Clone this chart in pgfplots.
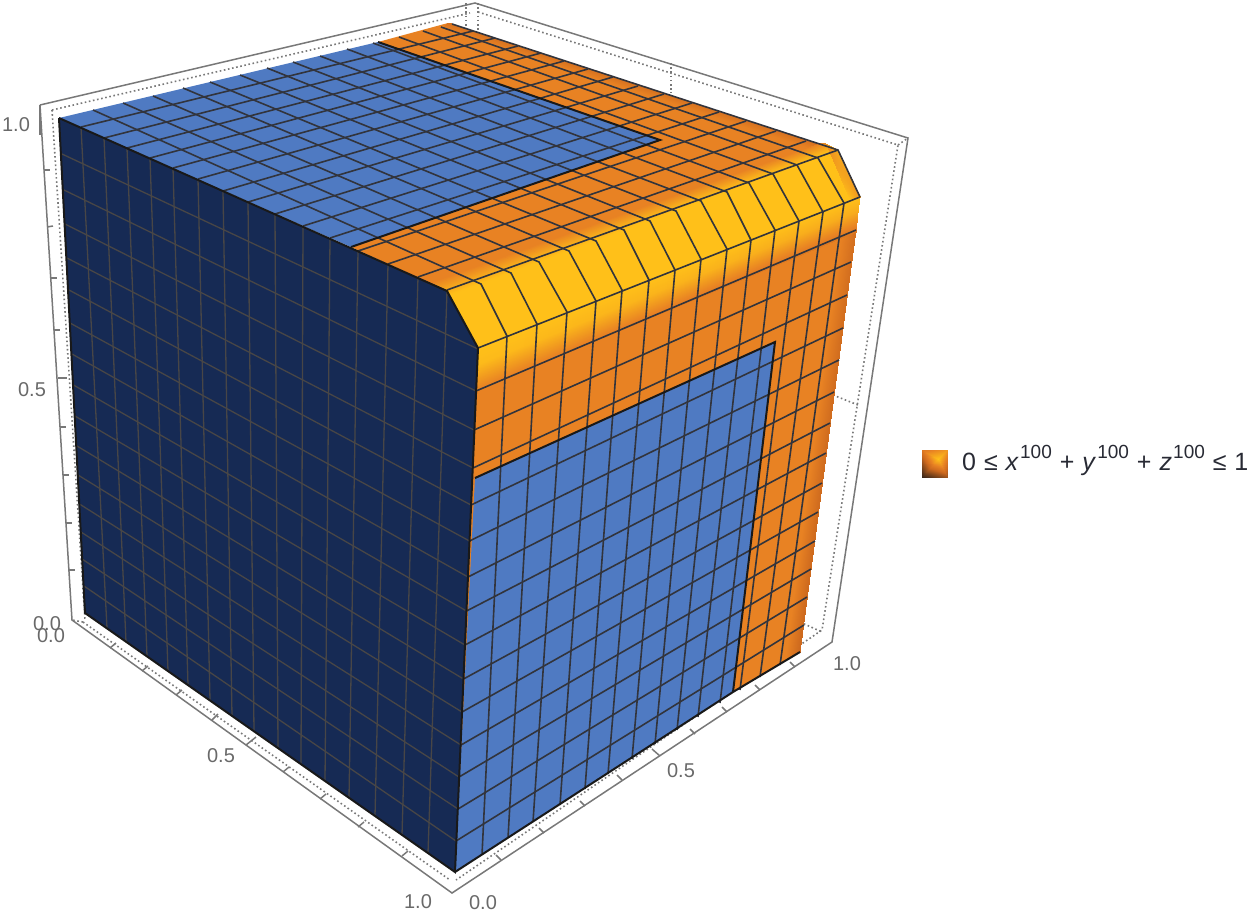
\documentclass[border=0pt]{standalone}
\usepackage{pgfplots}
\usepgfplotslibrary{patchplots}
\pgfplotsset{compat=1.18}
\usepackage{fontspec}
\setmainfont{Liberation Sans}
\definecolor{darkf}{RGB}{22,42,84}
\definecolor{bluef}{RGB}{79,122,194}
\definecolor{orangef}{RGB}{232,130,35}
\definecolor{yellowf}{RGB}{255,192,25}
\definecolor{gridb}{RGB}{50,52,60}
\definecolor{gridd}{RGB}{72,70,70}
\definecolor{frameg}{RGB}{120,120,120}
\definecolor{tickl}{RGB}{105,105,105}
\definecolor{legt}{RGB}{40,42,52}
\pgfplotsset{
 gl/.style={no marks,color=gridb,line width=1.6pt,forget plot},
 dl/.style={no marks,color=gridd,line width=1.3pt,forget plot},
 fr/.style={no marks,color=frameg,line width=1.5pt,forget plot},
 fd/.style={no marks,color=frameg,line width=1.6pt,dash pattern=on 1.6pt off 2.6pt,forget plot},
 eg/.style={no marks,color=black!90,line width=2pt,forget plot},
 sh/.style={patch,patch type=bilinear,shader=interp,point meta=explicit,forget plot},
}
\tikzset{ar/.style={font=\fontsize{20}{20}\selectfont,text=tickl,inner sep=0pt}}
\newcommand{\supn}{\hspace{1.2pt}\raisebox{12pt}{\fontsize{19}{19}\selectfont 100}}
\begin{document}
\begin{tikzpicture}[x=1pt,y=1pt]
\useasboundingbox (0,0) rectangle (1250,914);
\begin{axis}[at={(0,0)},anchor=south west,scale only axis,width=1250pt,height=914pt,
 xmin=0,xmax=1250,ymin=0,ymax=914,y dir=reverse,axis lines=none,clip=false,
 point meta min=0,point meta max=1,
 colormap={hot2}{rgb255(0cm)=(50,35,25) rgb255(5cm)=(205,105,30) rgb255(7cm)=(232,130,35) rgb255(10cm)=(255,192,25)}]
% frame, solid
\addplot[fr] coordinates {(40,105)(475,3)(908,138)(832,642)(452,893)(72,620)(40,105)};
\addplot[fr] coordinates {(40,105)(40,135)};
% frame, dotted
\addplot[fd] coordinates {(52,110)(470,13)};
\addplot[fd] coordinates {(478,12)(898,145)(822,630)(456,880)};
\addplot[fd] coordinates {(83,622)(450,880)};
\addplot[fd] coordinates {(52,110)(85,620)};
\addplot[fd] coordinates {(478,3)(478,30)};
\addplot[fd] coordinates {(466,3)(466,28)};
\addplot[fd] coordinates {(671,63)(671,93)};
\addplot[fd] coordinates {(833,395)(858,405)};
\addplot[fd] coordinates {(800,622)(822,632)};
\addplot[fd] coordinates {(898,145)(908,138)};
\addplot[fd] coordinates {(83,622)(72,620)};
% frame ticks, left
\addplot[fr] coordinates {(44,170)(50,170)};
\addplot[fr] coordinates {(47,227)(53,226)};
\addplot[fr] coordinates {(51,278)(57,278)};
\addplot[fr] coordinates {(54,330)(60,330)};
\addplot[fr] coordinates {(58,378)(67,378)};
\addplot[fr] coordinates {(60,427)(66,427)};
\addplot[fr] coordinates {(63,475)(69,475)};
\addplot[fr] coordinates {(66,523)(72,523)};
\addplot[fr] coordinates {(69,570)(75,570)};
% frame ticks, lower left
\addplot[fr] coordinates {(110,648)(116,643)};
\addplot[fr] coordinates {(142,671)(148,666)};
\addplot[fr] coordinates {(176,695)(182,690)};
\addplot[fr] coordinates {(212,720)(218,714)};
\addplot[fr] coordinates {(246,745)(256,737)};
\addplot[fr] coordinates {(283,772)(289,767)};
\addplot[fr] coordinates {(320,799)(326,794)};
\addplot[fr] coordinates {(358,827)(364,822)};
\addplot[fr] coordinates {(402,856)(408,851)};
% frame ticks, lower right
\addplot[fr] coordinates {(501,860)(496,855)};
\addplot[fr] coordinates {(544,833)(539,828)};
\addplot[fr] coordinates {(585,806)(580,801)};
\addplot[fr] coordinates {(622,780)(617,775)};
\addplot[fr] coordinates {(660,756)(652,749)};
\addplot[fr] coordinates {(695,734)(690,729)};
\addplot[fr] coordinates {(727,712)(722,707)};
\addplot[fr] coordinates {(760,690)(755,685)};
\addplot[fr] coordinates {(795,667)(790,662)};
% orange base
\addplot[fill=orangef,draw=none,forget plot] coordinates {(351,247)(378,42)(448,23)(828,147)(860,197)(478,348)(447,291)} --cycle;
\addplot[fill=orangef,draw=none,forget plot] coordinates {(478,348)(860,197)(800,652)(733,692)(455,872)} --cycle;
% shaded parts of the orange surface
\addplot[sh] coordinates {(448,23)[0.55] (828,147)[0.55] (823,154)[0.7] (443,29)[0.7]};
\addplot[sh] coordinates {(842,230)[0.7] (856,230)[0.55] (800,652)[0.5] (786,660)[0.7]};
\addplot[sh] coordinates {(432,283)[0.7] (823,143)[0.7] (838,150)[1] (452,295)[1]};
\addplot[sh] coordinates {(478,348)[1] (860,197)[1] (858,212)[0.9] (477,366)[0.97]};
\addplot[sh] coordinates {(477,366)[0.97] (858,212)[0.9] (856,232)[0.62] (476,391)[0.7]};
\addplot[fill=yellowf,draw=none,forget plot] coordinates {(447,291)(452,295)(838,150)(860,197)(478,348)} --cycle;
\addplot[sh] coordinates {(828,147)[0.75] (838,150)[0.9] (860,197)[0.8] (850,199)[1]};
% top blue and front blue
\addplot[fill=bluef,draw=none,forget plot] coordinates {(59,118)(378,42)(660,140)(351,247)} --cycle;
\addplot[fill=bluef,draw=none,forget plot] coordinates {(475,478)(775,342)(733,692)(455,872)} --cycle;
% top rows
\addplot[gl] coordinates {(81,127)(473,31)};
\addplot[gl] coordinates {(104,138)(495,38)};
\addplot[gl] coordinates {(127,148)(518,46)};
\addplot[gl] coordinates {(150,158)(541,53)};
\addplot[gl] coordinates {(173,168)(564,61)};
\addplot[gl] coordinates {(198,179)(588,69)};
\addplot[gl] coordinates {(223,191)(613,77)};
\addplot[gl] coordinates {(248,202)(638,86)};
\addplot[gl] coordinates {(275,214)(664,94)};
\addplot[gl] coordinates {(303,226)(692,103)};
\addplot[gl] coordinates {(330,238)(719,112)};
\addplot[gl] coordinates {(358,251)(746,121)};
\addplot[gl] coordinates {(388,264)(776,131)};
\addplot[gl] coordinates {(418,277)(806,141)};
\addplot[gl] coordinates {(447,290)(838,150)};
% columns over the top, the rounded edge and the front
\addplot[gl] coordinates {(93,110)(481,284)(507,336)(482,855)};
\addplot[gl] coordinates {(123,103)(511,273)(537,324)(508,838)};
\addplot[gl] coordinates {(153,96)(539,262)(567,312)(533,822)};
\addplot[gl] coordinates {(183,88)(569,251)(596,301)(560,805)};
\addplot[gl] coordinates {(210,82)(596,241)(622,290)(585,789)};
\addplot[gl] coordinates {(240,75)(624,230)(649,280)(608,774)};
\addplot[gl] coordinates {(267,68)(650,221)(675,270)(632,759)};
\addplot[gl] coordinates {(293,62)(676,211)(701,259)(655,744)};
\addplot[gl] coordinates {(320,56)(701,201)(727,249)(677,730)};
\addplot[gl] coordinates {(347,49)(727,192)(751,240)(698,717)};
\addplot[gl] coordinates {(373,43)(749,183)(775,230)(720,703)};
\addplot[gl] coordinates {(399,37)(773,174)(799,221)(740,690)};
\addplot[gl] coordinates {(423,31)(797,165)(823,212)(760,677)};
\addplot[gl] coordinates {(441,27)(818,158)(844,203)(780,665)};
\addplot[gl] coordinates {(452,24)(838,150)(860,197)};
% front rows
\addplot[gl] coordinates {(456,841)(804,625)};
\addplot[gl] coordinates {(458,809)(807,597)};
\addplot[gl] coordinates {(459,777)(811,569)};
\addplot[gl] coordinates {(461,745)(815,541)};
\addplot[gl] coordinates {(462,712)(818,512)};
\addplot[gl] coordinates {(463.5,679)(822,483)};
\addplot[gl] coordinates {(465,645)(826,453)};
\addplot[gl] coordinates {(466.5,611)(830,423)};
\addplot[gl] coordinates {(468,577)(834,392)};
\addplot[gl] coordinates {(469.5,541)(839,360)};
\addplot[gl] coordinates {(471,505)(843,328)};
\addplot[gl] coordinates {(473,468)(847,295)};
\addplot[gl] coordinates {(474,430)(851,262)};
\addplot[gl] coordinates {(476,391)(856,230)};
\addplot[gl] coordinates {(478,348)(860,197)};
% blue borders
\addplot[eg] coordinates {(378,42)(660,140)(351,247)};
\addplot[eg] coordinates {(475,478)(775,342)(733,692)};
% dark face
\addplot[fill=darkf,draw=none,forget plot] coordinates {(59,118)(447,291)(478,348)(455,872)(85,613)} --cycle;
\addplot[dl] coordinates {(81,127)(107,628)};
\addplot[dl] coordinates {(104,138)(126,642)};
\addplot[dl] coordinates {(127,148)(147,656)};
\addplot[dl] coordinates {(150,158)(168,671)};
\addplot[dl] coordinates {(173,168)(188,685)};
\addplot[dl] coordinates {(198,179)(210,700)};
\addplot[dl] coordinates {(223,191)(232,716)};
\addplot[dl] coordinates {(248,202)(254,731)};
\addplot[dl] coordinates {(275,214)(278,748)};
\addplot[dl] coordinates {(303,226)(301,764)};
\addplot[dl] coordinates {(330,238)(325,781)};
\addplot[dl] coordinates {(358,251)(349,798)};
\addplot[dl] coordinates {(388,264)(375,816)};
\addplot[dl] coordinates {(418,277)(402,835)};
\addplot[dl] coordinates {(447,291)(428,853)};
\addplot[dl] coordinates {(62,154)(478,349)};
\addplot[dl] coordinates {(64,190)(476,391)};
\addplot[dl] coordinates {(65,224)(474,430)};
\addplot[dl] coordinates {(67,258)(473,468)};
\addplot[dl] coordinates {(69,290)(471,505)};
\addplot[dl] coordinates {(70,323)(469.5,541)};
\addplot[dl] coordinates {(72,354)(468,577)};
\addplot[dl] coordinates {(73.5,385)(466.5,611)};
\addplot[dl] coordinates {(75,416)(465,645)};
\addplot[dl] coordinates {(77,446)(463.5,679)};
\addplot[dl] coordinates {(78,475)(462,712)};
\addplot[dl] coordinates {(79.5,504)(461,745)};
\addplot[dl] coordinates {(81,532)(459,777)};
\addplot[dl] coordinates {(82,559)(458,809)};
\addplot[dl] coordinates {(84,586)(456,841)};
\addplot[eg] coordinates {(59,118)(447,291)(478,348)(455,872)(85,613)(59,118)};
% bottom edge of blue and orange
\addplot[eg] coordinates {(455,872)(733,692)(800,652)};
% legend swatch
\addplot[patch,shader=interp,point meta=explicit,forget plot] coordinates {
 (938,459)[1] (922,450)[0.62] (947,450)[0.8]
 (938,459)[1] (947,450)[0.8] (947,477)[0.35]
 (938,459)[1] (947,477)[0.35] (922,477)[0.02]
 (938,459)[1] (922,477)[0.02] (922,450)[0.62]};
% tick labels
\node[ar] at (axis cs:16,125) {1.0};
\node[ar] at (axis cs:32,390) {0.5};
\node[ar] at (axis cs:47,624) {0.0};
\node[ar] at (axis cs:51,636) {0.0};
\node[ar] at (axis cs:221,756) {0.5};
\node[ar] at (axis cs:418,902) {1.0};
\node[ar] at (axis cs:483,903) {0.0};
\node[ar] at (axis cs:681,771) {0.5};
\node[ar] at (axis cs:847,664) {1.0};
\node[anchor=west,inner sep=0pt,font=\fontsize{25}{25}\selectfont,text=legt] at (axis cs:962,460)
 {0\hspace{1pt} ≤\hspace{1pt} \textit{x}\supn\hspace{1pt} +\hspace{1pt} \textit{y}\supn\hspace{1pt} +\hspace{1pt} \textit{z}\supn\hspace{1pt} ≤\hspace{1pt} 1};
\end{axis}
\end{tikzpicture}
\end{document}
